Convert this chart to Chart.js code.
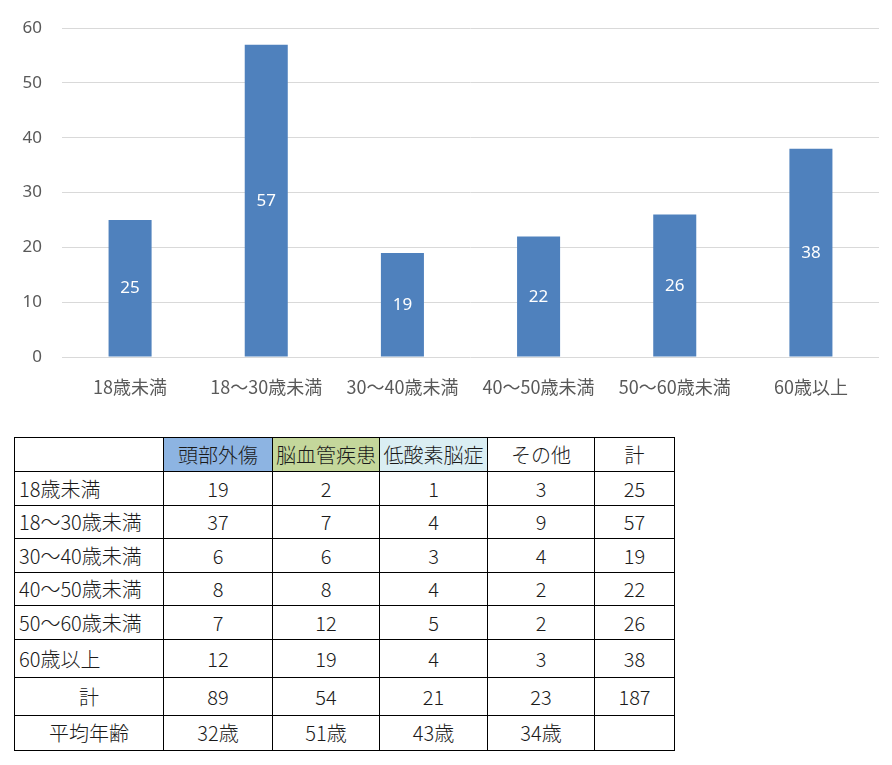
<!DOCTYPE html>
<html>
<head>
<meta charset="utf-8">
<script src="https://cdn.jsdelivr.net/npm/chart.js@4.4.1/dist/chart.umd.min.js"></script>
<style>
  html, body { margin: 0; padding: 0; background: #fff; }
  body { width: 892px; height: 765px; position: relative; overflow: hidden; font-family: "Noto Sans CJK JP", "Noto Sans", sans-serif; }
  #chartBox { position: absolute; left: 0; top: -2px; width: 892px; height: 411px; }
  table { position: absolute; left: 14px; top: 437px; border-collapse: collapse; font-size: 20px; color: #1a1a1a; font-weight: 300; }
  td { border: 1px solid #000; padding: 0; text-align: center; line-height: 1; }
  td.lbl { text-align: left; padding-left: 4px; }
  td.mid { text-align: center; }
</style>
</head>
<body>
<div id="chartBox"><canvas id="ageChart"></canvas></div>
<table id="tbl"></table>
<script>
// chart data
var ageGroups = ['18歳未満', '18～30歳未満', '30～40歳未満', '40～50歳未満', '50～60歳未満', '60歳以上'];
var totals = [25, 57, 19, 22, 26, 38];

// table data
var causeHeaders = ['頭部外傷', '脳血管疾患', '低酸素脳症', 'その他', '計'];
var headerColors = ['#8db4e2', '#c4d79b', '#daeef3', '#ffffff', '#ffffff'];
var headTrauma = [19, 37, 6, 8, 7, 12];
var cerebrovascular = [2, 7, 6, 8, 12, 19];
var hypoxic = [1, 4, 3, 4, 5, 4];
var others = [3, 9, 4, 2, 2, 3];
var columnTotals = [89, 54, 21, 23, 187];
var averageAges = ['32歳', '51歳', '43歳', '34歳', ''];

var colWidths = [149, 109, 107, 108, 107, 80];
var rowHeights = [34, 34, 33, 34, 33, 34, 38, 38, 35];

function buildTable() {
  var t = document.getElementById('tbl');
  var html = '<colgroup>';
  colWidths.forEach(function (w) { html += '<col style="width:' + w + 'px">'; });
  html += '</colgroup>';
  var r = 0;
  html += '<tr style="height:' + rowHeights[r++] + 'px"><td></td>';
  causeHeaders.forEach(function (h, i) {
    html += '<td style="background:' + headerColors[i] + '">' + h + '</td>';
  });
  html += '</tr>';
  ageGroups.forEach(function (g, i) {
    html += '<tr style="height:' + rowHeights[r++] + 'px"><td class="lbl">' + g + '</td>' +
      '<td>' + headTrauma[i] + '</td><td>' + cerebrovascular[i] + '</td><td>' + hypoxic[i] + '</td>' +
      '<td>' + others[i] + '</td><td>' + totals[i] + '</td></tr>';
  });
  html += '<tr style="height:' + rowHeights[r++] + 'px"><td class="mid">計</td>';
  columnTotals.forEach(function (v) { html += '<td>' + v + '</td>'; });
  html += '</tr>';
  html += '<tr style="height:' + rowHeights[r++] + 'px"><td class="mid">平均年齢</td>';
  averageAges.forEach(function (v) { html += '<td>' + v + '</td>'; });
  html += '</tr>';
  t.innerHTML = html;
}
buildTable();

var valueLabels = {
  id: 'valueLabels',
  afterDatasetsDraw: function (chart) {
    var ctx = chart.ctx;
    var meta = chart.getDatasetMeta(0);
    var yScale = chart.scales.y;
    ctx.save();
    ctx.fillStyle = '#ffffff';
    ctx.font = '17px "Noto Sans", "DejaVu Sans", sans-serif';
    ctx.textAlign = 'center';
    ctx.textBaseline = 'middle';
    meta.data.forEach(function (bar, i) {
      var v = chart.data.datasets[0].data[i];
      var yMid = (yScale.getPixelForValue(v) + yScale.getPixelForValue(0)) / 2;
      ctx.fillText(String(v), bar.x, yMid);
    });
    ctx.restore();
  }
};

var ageChart = new Chart(document.getElementById('ageChart'), {
  type: 'bar',
  data: {
    labels: ageGroups,
    datasets: [{
      data: totals,
      backgroundColor: '#4f81bd',
      categoryPercentage: 1.0,
      barPercentage: 0.316
    }]
  },
  options: {
    animation: false,
    responsive: true,
    maintainAspectRatio: false,
    layout: { padding: { left: 0, right: 13, top: 15.5, bottom: 0 } },
    plugins: {
      legend: { display: false },
      tooltip: { enabled: false }
    },
    scales: {
      x: {
        afterFit: function (scale) { scale.height = 52; },
        grid: { display: false, drawTicks: false },
        border: { display: false },
        ticks: {
          color: '#595959',
          padding: 19,
          maxRotation: 0,
          font: { size: 18, family: '"Noto Sans CJK JP", sans-serif' }
        }
      },
      y: {
        min: 0,
        max: 60,
        afterFit: function (scale) { scale.width = 62; },
        grid: { color: '#d9d9d9', lineWidth: 1, drawTicks: false },
        border: { display: false },
        ticks: {
          stepSize: 10,
          color: '#595959',
          padding: 20,
          font: { size: 17, family: '"Noto Sans", sans-serif' }
        }
      }
    }
  },
  plugins: [valueLabels]
});
</script>
</body>
</html>
